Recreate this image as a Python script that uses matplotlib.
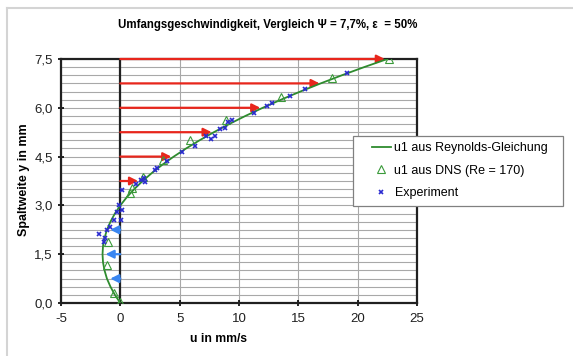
import numpy as np
import matplotlib.pyplot as plt
from matplotlib.lines import Line2D
from matplotlib.patches import Rectangle
from matplotlib.ticker import MultipleLocator, FuncFormatter

plt.rcParams['font.family'] = ['Liberation Sans', 'DejaVu Sans']
plt.rcParams['axes.unicode_minus'] = False

# Reynolds-Gleichung
y_rey = [0.0, 0.25, 0.5, 0.75, 1.0, 1.25, 1.5, 1.75, 2.0, 2.25, 2.5, 2.75, 3.0,
         3.25, 3.5, 3.75, 4.0, 4.25, 4.5, 4.75, 5.0, 5.25, 5.5, 5.75, 6.0,
         6.25, 6.5, 6.75, 7.0, 7.25, 7.5]
u_rey = [0.0, -0.46, -0.83, -1.13, -1.33, -1.46, -1.5, -1.46, -1.33, -1.13, -0.83, -0.46, 0.0,
         0.54, 1.17, 1.88, 2.67, 3.54, 4.5, 5.54, 6.67, 7.88, 9.17, 10.54, 12.0,
         13.54, 15.17, 16.88, 18.67, 20.54, 22.5]

# DNS (Re = 170)
y_dns = [0.04, 0.31, 1.17, 1.89, 3.38, 3.54, 3.87, 4.4, 5.0, 5.63, 6.33, 6.92, 7.5]
u_dns = [0.0, -0.56, -1.1, -1.0, 0.84, 1.0, 1.9, 3.6, 5.9, 8.9, 13.5, 17.8, 22.6]

# Experiment
y_exp = [1.88, 2.0, 2.12, 2.25, 2.35, 2.55, 2.55, 2.81, 2.86, 3.02, 3.48, 3.66, 3.73,
         3.78, 3.84, 4.1, 4.14, 4.35, 4.63, 4.83, 5.05, 5.12, 5.12, 5.35, 5.37,
         5.55, 5.63, 5.84, 6.06, 6.14, 6.35, 6.58, 7.07]
u_exp = [-1.4, -1.26, -1.8, -1.1, -0.84, -0.56, 0.05, -0.28, 0.14, -0.1, 0.14, 1.35, 2.1,
         1.7, 2.0, 2.9, 3.1, 3.9, 5.2, 6.3, 7.6, 7.2, 8.0, 8.4, 8.85,
         9.1, 9.4, 11.3, 12.4, 12.8, 14.3, 15.6, 19.1]

# Pfeile
y_red = [3.75, 4.5, 5.25, 6.0, 6.75, 7.5]
u_red = [1.5, 4.3, 7.7, 11.8, 16.8, 22.3]
y_blue = [0.75, 1.5, 2.25]
u_blue = [-0.85, -1.25, -0.85]

fig = plt.figure(figsize=(5.73, 3.56), dpi=100)
ax = fig.add_axes([61 / 573, 1 - 303 / 356, 356 / 573, 244 / 356])

ax.set_xlim(-5, 25)
ax.set_ylim(0, 7.5)
ax.xaxis.set_major_locator(MultipleLocator(5))
ax.yaxis.set_major_locator(MultipleLocator(1.5))
ax.yaxis.set_minor_locator(MultipleLocator(0.25))
ax.yaxis.set_major_formatter(FuncFormatter(lambda v, p: f"{v:.1f}".replace('.', ',')))
ax.grid(True, which='major', axis='x', color='#a8a8a8', lw=0.8)
ax.grid(True, which='both', axis='y', color='#a8a8a8', lw=0.8)
ax.set_axisbelow(True)
ax.tick_params(which='major', direction='inout', length=5, width=1.2, labelsize=9.5,
               color='black', labelcolor='#202020')
ax.tick_params(axis='x', pad=5)
ax.tick_params(which='minor', length=0)
for s in ax.spines.values():
    s.set_linewidth(1.6)
    s.set_color('#202020')

ax.axvline(0, color='#202020', lw=1.6, zorder=1.5)

for y, u in zip(y_red, u_red):
    ax.annotate('', xy=(u, y), xytext=(0, y),
                arrowprops=dict(arrowstyle='-|>', color='#e8261c', lw=1.6,
                                mutation_scale=12, shrinkA=0, shrinkB=0))
for y, u in zip(y_blue, u_blue):
    ax.annotate('', xy=(u, y), xytext=(0, y),
                arrowprops=dict(arrowstyle='-|>', color='#3a86f0', lw=1.6,
                                mutation_scale=12, shrinkA=0, shrinkB=0))

ax.plot(u_rey, y_rey, color='#2e8b2e', lw=1.3, label='u1 aus Reynolds-Gleichung', zorder=3)
ax.plot(u_dns, y_dns, ls='none', marker='^', ms=5.5, mfc='none', mec='#3a9a3a', mew=0.8,
        label='u1 aus DNS (Re = 170)', zorder=4)
ax.plot(u_exp, y_exp, ls='none', marker='x', ms=3.5, color='#2a2ad0', mew=1.2,
        label='Experiment', zorder=4)

# Legendenrahmen wie im Original (breiter als der Inhalt)
fig.add_artist(Rectangle((353 / 573, 1 - 206 / 356), 210 / 573, 70 / 356,
                         transform=fig.transFigure, fc='white', ec='#808080',
                         lw=0.9, zorder=4))
leg = fig.legend(loc='upper left', bbox_to_anchor=(372 / 573, 1 - 142 / 356), fontsize=9,
                 frameon=False, handlelength=1.5, handletextpad=0.3, borderpad=0,
                 labelspacing=0.85, borderaxespad=0)
leg.set_zorder(5)

fig.text(268 / 573, 1 - 25 / 356, 'Umfangsgeschwindigkeit, Vergleich Ψ = 7,7%, ε  = 50%',
         ha='center', va='center', fontsize=8.3, fontweight='bold')
fig.text(24 / 573, 1 - 180 / 356, 'Spaltweite y in mm', rotation=90,
         ha='center', va='center', fontsize=9, fontweight='bold')
fig.text(219 / 573, 1 - 339 / 356, 'u in mm/s', ha='center', va='center',
         fontsize=8.7, fontweight='bold')

# Rahmen des Diagrammbereichs
fig.add_artist(Line2D([7 / 573, 7 / 573], [0, 1 - 8 / 356], color='#d4d4d4', lw=1.5))
fig.add_artist(Line2D([7 / 573, 1], [1 - 8 / 356, 1 - 8 / 356], color='#d4d4d4', lw=1.5))

fig.savefig('out.png', dpi=100)
